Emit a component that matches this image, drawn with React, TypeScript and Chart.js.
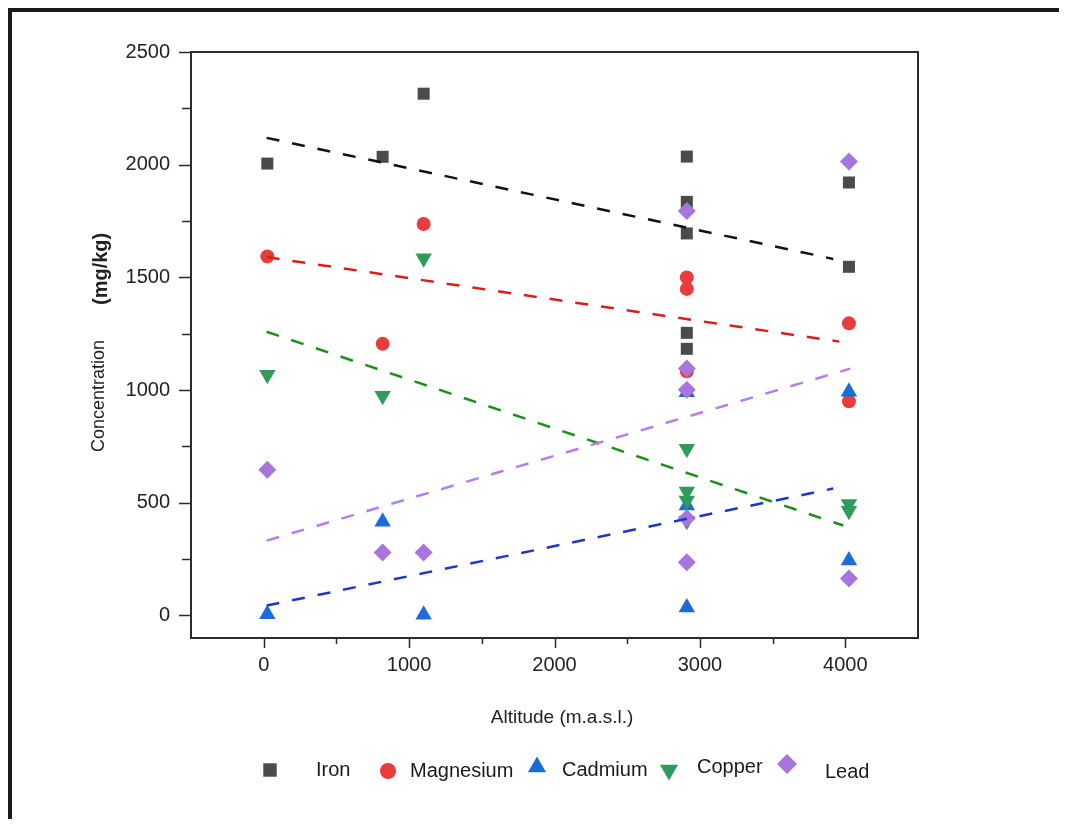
import React, { useEffect, useRef } from 'react';
import { Chart, registerables } from 'chart.js';

Chart.register(...registerables);

// ---------- data ----------
const ironAltitude = [25, 818, 1100, 2910, 2910, 2910, 2910, 2910, 4025, 4025];
const ironConc = [2005, 2035, 2315, 2036, 1835, 1695, 1254, 1183, 1921, 1547];

const magnesiumAltitude = [25, 818, 1100, 2910, 2910, 2910, 4025, 4025];
const magnesiumConc = [1593, 1205, 1737, 1500, 1449, 1083, 1296, 950];

const cadmiumAltitude = [25, 818, 1100, 2910, 2910, 2910, 4025, 4025];
const cadmiumConc = [5, 416, 3, 990, 488, 35, 993, 244];

const copperAltitude = [25, 818, 1100, 2910, 2910, 2910, 2910, 4025, 4025];
const copperConc = [1068, 975, 1585, 740, 550, 510, 420, 495, 465];

const leadAltitude = [25, 818, 1100, 2910, 2910, 2910, 2910, 2910, 4025, 4025];
const leadConc = [647, 279, 279, 1795, 1096, 1002, 431, 236, 2014, 164];

// linear fit lines (endpoints)
const ironFitX = [20, 3917];
const ironFitY = [2119, 1582];
const magnesiumFitX = [20, 3959];
const magnesiumFitY = [1590, 1215];
const cadmiumFitX = [20, 3917];
const cadmiumFitY = [44, 563];
const copperFitX = [20, 3986];
const copperFitY = [1259, 399];
const leadFitX = [20, 4034];
const leadFitY = [332, 1095];

const xTickValues = [0, 1000, 2000, 3000, 4000];
const xMinorTicks = [500, 1500, 2500, 3500];
const yTickValues = [0, 500, 1000, 1500, 2000, 2500];
const yMinorTicks = [250, 750, 1250, 1750, 2250];

const seriesNames = ['Iron', 'Magnesium', 'Cadmium', 'Copper', 'Lead'];

// ---------- styles ----------
const FONT = '"Liberation Sans", Arial, Helvetica, sans-serif';
const COLORS = ['#4b4b4b', '#e93c3c', '#1b6bd9', '#2f9b5d', '#a874dd'];
const FIT_COLORS = ['#111111', '#dd1c1c', '#2233cc', '#1a8f1a', '#b77cf0'];
const STYLES = ['rect', 'circle', 'triangle', 'triangle', 'rectRot'];
const ROTATIONS = [0, 0, 0, 180, 0];
const RADII = [8.5, 7, 9.5, 9.5, 9];

const CANVAS_W = 1040;
const CANVAS_H = 807;

const toXY = (xs: number[], ys: number[]) => xs.map((x, i) => ({ x, y: ys[i] }));

function drawMarker(ctx: CanvasRenderingContext2D, style: string, x: number, y: number, r: number, rot: number) {
  ctx.beginPath();
  if (style === 'rect') {
    const s = Math.SQRT1_2 * r;
    ctx.rect(x - s, y - s, 2 * s, 2 * s);
  } else if (style === 'circle') {
    ctx.arc(x, y, r, 0, Math.PI * 2);
  } else if (style === 'triangle') {
    let a = (rot * Math.PI) / 180;
    for (let i = 0; i < 3; i++) {
      const px = x + Math.sin(a) * r;
      const py = y - Math.cos(a) * r;
      if (i === 0) ctx.moveTo(px, py);
      else ctx.lineTo(px, py);
      a += (2 * Math.PI) / 3;
    }
    ctx.closePath();
  } else if (style === 'rectRot') {
    ctx.moveTo(x, y - r);
    ctx.lineTo(x + r, y);
    ctx.lineTo(x, y + r);
    ctx.lineTo(x - r, y);
    ctx.closePath();
  }
  ctx.fill();
}

// legend layout (canvas coordinates)
const LEGEND_MARKER_X = [258, 376, 525, 657, 775];
const LEGEND_MARKER_Y = [758, 759, 755, 758, 752];
const LEGEND_TEXT_X = [304, 398, 550, 685, 813];
const LEGEND_TEXT_Y = [758, 759, 758, 755, 760];

const framePlugin = {
  id: 'frameAndExtras',
  afterDraw(chart: any) {
    const { ctx, chartArea: a, scales } = chart;
    const xs = scales.x;
    const ys = scales.y;
    ctx.save();
    // box
    ctx.strokeStyle = '#2b2b2b';
    ctx.lineWidth = 2;
    ctx.strokeRect(a.left, a.top, a.right - a.left, a.bottom - a.top);
    // x ticks
    ctx.lineWidth = 1.5;
    ctx.beginPath();
    xTickValues.forEach((v) => {
      const p = Math.round(xs.getPixelForValue(v)) + 0.5;
      ctx.moveTo(p, a.bottom);
      ctx.lineTo(p, a.bottom + 10);
    });
    xMinorTicks.forEach((v) => {
      const p = Math.round(xs.getPixelForValue(v)) + 0.5;
      ctx.moveTo(p, a.bottom);
      ctx.lineTo(p, a.bottom + 6);
    });
    // y ticks
    yTickValues.forEach((v) => {
      const p = Math.round(ys.getPixelForValue(v)) + 0.5;
      ctx.moveTo(a.left, p);
      ctx.lineTo(a.left - 12, p);
    });
    yMinorTicks.forEach((v) => {
      const p = Math.round(ys.getPixelForValue(v)) + 0.5;
      ctx.moveTo(a.left, p);
      ctx.lineTo(a.left - 9, p);
    });
    ctx.stroke();

    // y title
    ctx.fillStyle = '#222';
    ctx.save();
    ctx.translate(87, 440);
    ctx.rotate(-Math.PI / 2);
    ctx.textAlign = 'left';
    ctx.textBaseline = 'middle';
    ctx.font = `18px ${FONT}`;
    ctx.fillText('Concentration', 0, 0);
    ctx.font = `bold 20px ${FONT}`;
    ctx.fillText('(mg/kg)', 147, 2);
    ctx.restore();

    // x title
    ctx.textAlign = 'center';
    ctx.textBaseline = 'middle';
    ctx.font = `19px ${FONT}`;
    ctx.fillText('Altitude (m.a.s.l.)', 550, 706);

    // legend
    seriesNames.forEach((name, i) => {
      ctx.fillStyle = COLORS[i];
      drawMarker(ctx, STYLES[i], LEGEND_MARKER_X[i], LEGEND_MARKER_Y[i], RADII[i] + 1, ROTATIONS[i]);
      ctx.fillStyle = '#1a1a1a';
      ctx.textAlign = 'left';
      ctx.textBaseline = 'middle';
      ctx.font = `20px ${FONT}`;
      ctx.fillText(name, LEGEND_TEXT_X[i], LEGEND_TEXT_Y[i]);
    });
    ctx.restore();
  },
};

export default function App() {
  const ref = useRef<HTMLCanvasElement>(null);

  useEffect(() => {
    if (!ref.current) return;
    const pointSets = [
      toXY(ironAltitude, ironConc),
      toXY(magnesiumAltitude, magnesiumConc),
      toXY(cadmiumAltitude, cadmiumConc),
      toXY(copperAltitude, copperConc),
      toXY(leadAltitude, leadConc),
    ];
    const fitSets = [
      toXY(ironFitX, ironFitY),
      toXY(magnesiumFitX, magnesiumFitY),
      toXY(cadmiumFitX, cadmiumFitY),
      toXY(copperFitX, copperFitY),
      toXY(leadFitX, leadFitY),
    ];
    const datasets: any[] = [];
    seriesNames.forEach((name, i) => {
      datasets.push({
        label: name,
        data: pointSets[i],
        pointStyle: STYLES[i],
        rotation: ROTATIONS[i],
        pointRadius: RADII[i],
        pointHoverRadius: RADII[i],
        backgroundColor: COLORS[i],
        borderColor: COLORS[i],
        borderWidth: 0,
        pointBorderWidth: 0,
        showLine: false,
        order: 4 - i,
      });
    });
    seriesNames.forEach((name, i) => {
      datasets.push({
        label: name + ' fit',
        data: fitSets[i],
        showLine: true,
        pointRadius: 0,
        pointHoverRadius: 0,
        borderColor: FIT_COLORS[i],
        backgroundColor: FIT_COLORS[i],
        borderWidth: 2.5,
        borderDash: [13, 13],
        fill: false,
        order: -1 - i,
      });
    });

    const chart = new Chart(ref.current, {
      type: 'scatter',
      data: { datasets },
      plugins: [framePlugin],
      options: {
        animation: false,
        responsive: false,
        devicePixelRatio: 1,
        layout: { padding: { top: 40, right: 134, left: 0, bottom: 0 } },
        plugins: {
          legend: { display: false },
          tooltip: { enabled: false },
        },
        scales: {
          x: {
            type: 'linear',
            min: -500,
            max: 4500,
            afterBuildTicks: (s: any) => {
              s.ticks = xTickValues.map((v) => ({ value: v }));
            },
            afterFit: (s: any) => {
              s.height = CANVAS_H - 626;
            },
            grid: { display: false, drawTicks: false },
            border: { display: false },
            ticks: {
              color: '#222',
              font: { size: 20, family: FONT },
              padding: 15,
              maxRotation: 0,
              autoSkip: false,
              callback: (v: any) => String(v),
            },
          },
          y: {
            type: 'linear',
            min: -100,
            max: 2500,
            afterBuildTicks: (s: any) => {
              s.ticks = yTickValues.map((v) => ({ value: v }));
            },
            afterFit: (s: any) => {
              s.width = 179;
            },
            grid: { display: false, drawTicks: false },
            border: { display: false },
            ticks: {
              color: '#222',
              font: { size: 20, family: FONT },
              padding: 21,
              autoSkip: false,
              callback: (v: any) => String(v),
            },
          },
        },
      },
    });
    return () => chart.destroy();
  }, []);

  return (
    <div style={{ borderTop: '4px solid #1a1a1a', borderLeft: '4px solid #1a1a1a' }}>
      <canvas
        ref={ref}
        width={CANVAS_W}
        height={CANVAS_H}
        style={{ display: 'block', width: CANVAS_W, height: CANVAS_H }}
      />
    </div>
  );
}
